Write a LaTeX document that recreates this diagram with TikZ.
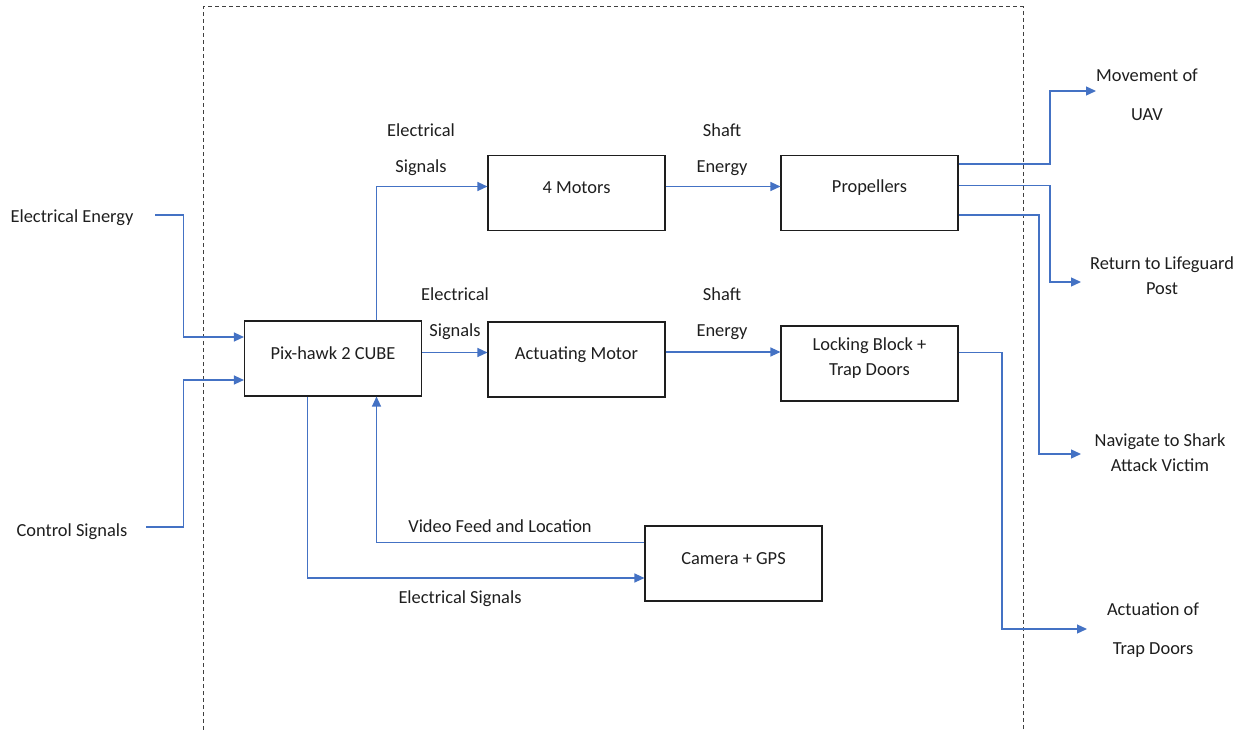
\documentclass[tikz,border=0pt]{standalone}
\usepackage{fontspec}
\setmainfont{Carlito}
\usetikzlibrary{arrows.meta}
\definecolor{flowblue}{HTML}{4472C4}
\definecolor{ink}{HTML}{1E1E1E}
\tikzset{
  block/.style={draw=ink, line width=1.1pt, minimum width=177pt, minimum height=75pt, inner sep=0pt},
  txt/.style={text=ink, font=\fontsize{18.4}{25}\selectfont, inner sep=0pt, align=center, yshift=-1.8pt},
  flow/.style={draw=flowblue, line width=1.25pt, -{Triangle[length=10pt,width=9pt]}},
  frame/.style={draw=ink!85, line width=1pt, dash pattern=on 4pt off 3pt}
}
\begin{document}
\begin{tikzpicture}[x=1pt, y=-1pt]
\useasboundingbox (0,0) rectangle (1239,730);

% system boundary, open at the bottom
\draw[frame] (203,730) -- (203,7) -- (1023,7) -- (1023,730);

% blocks
\node[block] (pix)  at (333,358.5) {};
\node[block] (mot)  at (576.5,193) {};
\node[block] (prop) at (869.5,193) {};
\node[block] (act)  at (576.5,359.5) {};
\node[block] (lock) at (869.5,363.5) {};
\node[block] (cam)  at (733.5,563.5) {};

\node[txt] (pixT)  at ([yshift=7]pix.center)  {Pix-hawk 2 CUBE};
\node[txt] (motT)  at ([yshift=7]mot.center)  {4 Motors};
\node[txt] (propT) at ([yshift=7]prop.center) {Propellers};
\node[txt] (actT)  at ([yshift=7]act.center)  {Actuating Motor};
\node[txt] (lockT) at ([yshift=7]lock.center) {Locking Block +\\Trap Doors};
\node[txt] (camT)  at ([yshift=6.5]cam.center) {Camera + GPS};

% inputs
\node[txt] (eeT) at (72,216) {Electrical Energy};
\node[txt] (csT) at (72,530) {Control Signals};
\coordinate (ee) at (155,215);
\coordinate (cs) at (146,527);
\draw[flow] (ee) -- ++(28.6,0) |- ([yshift=21.5]pix.west);
\draw[flow] (cs) -- ++(37.6,0) |- ([yshift=-21.5]pix.west);

% signal and energy paths
\coordinate (motIn)  at ([yshift=6.5]mot.west);
\coordinate (actIn)  at ([yshift=7]act.west);
\coordinate (actOut) at ([yshift=7.5]act.east);
\draw[flow] ([xshift=43.5]pix.north) |- (motIn);
\draw[flow] (actIn -| pix.east) -- (actIn);
\draw[flow] ([yshift=6.5]mot.east) -- ([yshift=6.5]prop.west);
\draw[flow] (actOut) -- (actOut -| lock.west);

\node[txt] (es1) at (421,128) {Electrical};
\node[txt] (es2) at (421,166) {Signals};
\node[txt] (es3) at (455,292) {Electrical};
\node[txt] (es4) at (455,330) {Signals};
\node[txt] (se1) at (722,128) {Shaft};
\node[txt] (se2) at (722,166) {Energy};
\node[txt] (se3) at (722,292) {Shaft};
\node[txt] (se4) at (722,330) {Energy};

% camera loop
\draw[flow] ([xshift=-25.5]pix.south) |- ([yshift=-14.5]cam.west);
\draw[flow] ([yshift=21]cam.west) -| ([xshift=43.5]pix.south);
\node[txt] (vfT) at (500,524) {Video Feed and Location};
\node[txt] (esT) at (460,597) {Electrical Signals};

% outputs
\coordinate (movTip) at (1096,91);
\coordinate (retTip) at (1081,282);
\coordinate (navTip) at (1081,454);
\coordinate (trpTip) at (1087,629);
\draw[flow] ([yshift=29]prop.east)  -| ([xshift=-46]movTip) -- (movTip);
\draw[flow] ([yshift=7.5]prop.east) -| ([xshift=-31]retTip) -- (retTip);
\draw[flow] ([yshift=-22]prop.east) -| ([xshift=-42]navTip) -- (navTip);
\draw[flow] ([yshift=11]lock.east)  -| ([xshift=-85]trpTip) -- (trpTip);

\node[txt] (movT) at (1147,92.5) {Movement of\\[14pt]UAV};
\node[txt] (retT) at (1162,273.5) {Return to Lifeguard\\Post};
\node[txt] (navT) at (1160,450.5) {Navigate to Shark\\Attack Victim};
\node[txt] (trpT) at (1153,628.5) {Actuation of\\[14pt]Trap Doors};
\end{tikzpicture}
\end{document}
